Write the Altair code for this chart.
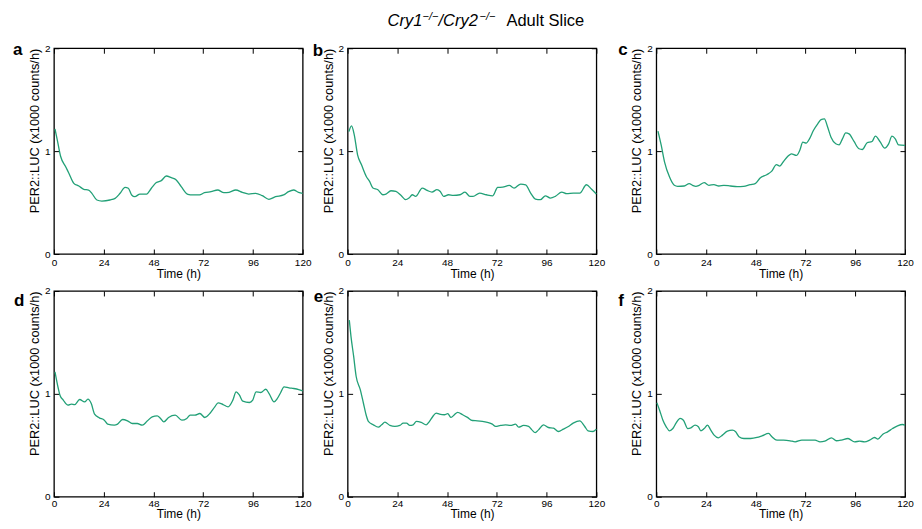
import altair as alt
import pandas as pd

# ---------------- data ----------------
TIME_TICKS = [0, 24, 48, 72, 96, 120]
Y_TICKS = [0, 1, 2]
X_TITLE = "Time (h)"
Y_TITLE = "PER2::LUC  (x1000 counts/h)"
PANEL_LETTERS = ["a", "b", "c", "d", "e", "f"]
TITLE_PARTS = ["Cry1", "\u2212/\u2212", "/Cry2", "\u2212/\u2212", "Adult Slice"]

a_time = [0.5, 1.6, 3.2, 5.6, 7.2, 9.6, 12, 14.4, 16.7, 18.3, 20.7, 23.1, 27, 29.5, 31.9, 34.3,
          35.9, 37.5, 39, 41.5, 44.7, 47, 49.4, 51.8, 54.2, 56.6, 59, 61.4, 64.6, 67, 70.2, 72.6,
          75.8, 79, 82, 84.5, 87.7, 90.9, 94, 97.3, 100.5, 103.7, 106.9, 110.8, 113.2, 115.6, 118, 120]
a_val = [1.215, 1.11, 0.95, 0.85, 0.785, 0.687, 0.661, 0.629, 0.622, 0.59, 0.525, 0.515, 0.525,
         0.541, 0.59, 0.648, 0.639, 0.574, 0.557, 0.583, 0.583, 0.639, 0.694, 0.713, 0.758, 0.742,
         0.72, 0.655, 0.58, 0.574, 0.574, 0.596, 0.606, 0.622, 0.596, 0.6, 0.622, 0.6, 0.583, 0.59,
         0.567, 0.532, 0.557, 0.574, 0.606, 0.622, 0.6, 0.59]

b_time = [0.6, 1.9, 3.2, 4.8, 6.7, 9, 10.6, 12.2, 14.6, 17, 18.5, 20.9, 23.3, 25.7, 28, 29.6, 31.2,
          32.8, 36, 38.4, 40.7, 43.1, 44.7, 46.3, 48.7, 51, 54.2, 56.6, 59, 60.5, 63.7, 66.9, 70,
          72.4, 74.8, 78, 80.3, 83.5, 85.9, 88.3, 90.6, 93, 95.4, 97.8, 100.2, 103.3, 105.7, 108.9,
          112, 115.2, 117.6, 120]
b_val = [1.19, 1.246, 1.159, 0.964, 0.867, 0.754, 0.706, 0.641, 0.625, 0.576, 0.583, 0.615, 0.608,
         0.57, 0.528, 0.544, 0.576, 0.56, 0.641, 0.618, 0.602, 0.625, 0.608, 0.56, 0.576, 0.57,
         0.576, 0.602, 0.56, 0.56, 0.592, 0.576, 0.566, 0.647, 0.65, 0.667, 0.641, 0.68, 0.673,
         0.592, 0.534, 0.528, 0.566, 0.544, 0.56, 0.602, 0.586, 0.592, 0.592, 0.673, 0.631, 0.583]

c_time = [0.8, 2.4, 4, 6.4, 8.7, 10.3, 13.5, 15.9, 17.5, 19.1, 20.7, 23.1, 25.4, 27.8, 30.2, 32.6,
          35.8, 39, 42.1, 45.3, 47.7, 50.1, 53.3, 55.6, 58, 59.6, 61.2, 63.6, 65.2, 67.6, 69.2, 70.7,
          72.3, 73.9, 75.8, 77.9, 79.5, 81.1, 82.7, 84.3, 86.6, 88.2, 89.8, 91.4, 93, 95.4, 97.8,
          99.4, 101.7, 104.1, 105.7, 108.1, 110.2, 112.1, 113.7, 115.3, 116.9, 120]
c_val = [1.194, 1.055, 0.894, 0.748, 0.668, 0.658, 0.661, 0.684, 0.668, 0.658, 0.668, 0.694, 0.668,
         0.674, 0.661, 0.668, 0.661, 0.655, 0.658, 0.674, 0.684, 0.739, 0.771, 0.803, 0.868, 0.855,
         0.894, 0.952, 0.974, 0.958, 1.006, 1.087, 1.077, 1.119, 1.2, 1.265, 1.306, 1.313, 1.232,
         1.135, 1.071, 1.061, 1.119, 1.177, 1.168, 1.094, 1.023, 1.016, 1.081, 1.094, 1.145, 1.087,
         1.029, 1.071, 1.145, 1.119, 1.061, 1.055]

d_time = [0.5, 2.1, 2.9, 4.5, 6.8, 8.4, 10, 12.4, 14.8, 16.4, 18, 19.6, 21.9, 24.3, 25.9, 29.1,
          30.7, 33.1, 35.5, 37.8, 40.2, 42.6, 45, 47.4, 49.8, 51.4, 53, 55.3, 58.5, 61.7, 64.1,
          65.7, 68, 70.4, 72.8, 75.2, 77.6, 79.2, 81.6, 84, 86.3, 87.9, 89.5, 91.1, 94.3, 95.9,
          97.5, 99.8, 102.2, 103.8, 106.2, 107.8, 109.4, 111, 113.4, 115.7, 118.1, 120]
d_val = [1.214, 1.052, 0.987, 0.939, 0.89, 0.9, 0.896, 0.945, 0.922, 0.948, 0.906, 0.803, 0.767,
         0.744, 0.706, 0.696, 0.706, 0.751, 0.738, 0.712, 0.712, 0.696, 0.735, 0.777, 0.786, 0.761,
         0.728, 0.77, 0.793, 0.744, 0.761, 0.793, 0.793, 0.809, 0.77, 0.809, 0.874, 0.913, 0.896,
         0.874, 0.939, 1.019, 0.987, 0.929, 0.916, 0.939, 1.019, 1.013, 1.045, 1.003, 0.922, 0.955,
         1.013, 1.068, 1.058, 1.052, 1.042, 1.029]

e_time = [0.8, 1.6, 2.9, 4.1, 6.1, 7.6, 8.9, 10, 12.4, 14.8, 16.4, 18, 20.4, 22.8, 25.2, 26.8,
          28.4, 30, 31.6, 33.2, 35.5, 37.9, 39.5, 41.1, 42.7, 44.3, 46.7, 48.3, 49.9, 51.5, 53.1,
          55.5, 57.8, 60.2, 62.6, 65, 67.4, 69.8, 71.4, 73.8, 76.2, 78.6, 81, 82.5, 84.9, 87.3,
          88.9, 90.5, 92.1, 94.5, 96.9, 99.3, 101.7, 104.1, 106.5, 108.8, 112, 114.4, 116, 118.4, 120]
e_val = [1.717, 1.561, 1.366, 1.171, 1.041, 0.911, 0.797, 0.732, 0.699, 0.676, 0.699, 0.725, 0.693,
         0.683, 0.693, 0.715, 0.715, 0.693, 0.699, 0.732, 0.722, 0.699, 0.732, 0.78, 0.813, 0.803,
         0.797, 0.807, 0.771, 0.797, 0.82, 0.797, 0.771, 0.741, 0.738, 0.732, 0.722, 0.706, 0.683,
         0.693, 0.699, 0.693, 0.706, 0.676, 0.693, 0.683, 0.65, 0.624, 0.65, 0.699, 0.673, 0.667,
         0.634, 0.657, 0.683, 0.715, 0.738, 0.683, 0.641, 0.634, 0.657]

f_time = [0.3, 1.6, 3.2, 4.8, 6.4, 8, 9.6, 11.5, 13.1, 15.2, 16.7, 18.7, 20.3, 21.5, 23.1, 24.7,
          26.3, 27.9, 30, 31.9, 34.3, 36.7, 38.3, 39.9, 42.3, 45.5, 48.6, 51, 54.2, 55.8, 58.2,
          61.4, 64.6, 67, 70.2, 73.4, 76.6, 79, 81.3, 84.5, 86.9, 89.3, 92.5, 95.7, 98.1, 100.5,
          102.9, 105.3, 106.9, 109.3, 111.6, 114, 116.4, 118.8, 120]
f_val = [0.913, 0.841, 0.744, 0.68, 0.641, 0.663, 0.718, 0.761, 0.744, 0.663, 0.67, 0.696, 0.68,
         0.641, 0.663, 0.696, 0.647, 0.599, 0.573, 0.599, 0.638, 0.647, 0.631, 0.583, 0.566, 0.566,
         0.576, 0.592, 0.615, 0.583, 0.55, 0.55, 0.544, 0.534, 0.55, 0.55, 0.55, 0.534, 0.54, 0.573,
         0.544, 0.55, 0.566, 0.534, 0.54, 0.534, 0.55, 0.576, 0.56, 0.608, 0.631, 0.663, 0.689,
         0.702, 0.696]

# ---------------- style ----------------
FONT = "Liberation Sans"
LINE_COLOR = "#22a077"
W, H = 249, 206

x_scale = alt.Scale(domain=[0, 120], nice=False)
y_scale = alt.Scale(domain=[0, 2], nice=False)
one_row = pd.DataFrame({"k": [0]})


def panel(t, v, letter, ldx, ldy, lpad, tpad, extra_layers=()):
    df = pd.DataFrame({"t": t, "v": v})
    main = alt.Chart(df).mark_line(
        color=LINE_COLOR, strokeWidth=1.3, interpolate="monotone"
    ).encode(
        x=alt.X("t:Q", scale=x_scale, axis=alt.Axis(
            orient="bottom", values=TIME_TICKS, format=".0f", title=X_TITLE, offset=-5,
            tickSize=5, labelPadding=lpad, titlePadding=tpad, labelFlush=False,
            labelOverlap=False, domain=False, grid=False)),
        y=alt.Y("v:Q", scale=y_scale, axis=alt.Axis(
            orient="left", values=Y_TICKS, format=".0f", title=Y_TITLE, titleAnchor="end",
            titleFontSize=12.8, offset=-5, tickSize=5, labelPadding=4, titlePadding=3,
            labelFlush=False, labelOverlap=False, domain=False, grid=False)),
    )
    ghost = alt.Chart(df).mark_line(strokeOpacity=0).encode(
        x=alt.X("t:Q", scale=x_scale, axis=alt.Axis(
            orient="top", values=TIME_TICKS, labels=False, title="", offset=-5, tickSize=5,
            domain=False, grid=False)),
        y=alt.Y("v:Q", scale=y_scale, axis=alt.Axis(
            orient="right", values=Y_TICKS, labels=False, title="", offset=-5, tickSize=5,
            domain=False, grid=False)),
    )
    lab = alt.Chart(one_row).mark_text(
        text=letter, font=FONT, fontSize=17, fontWeight="bold", align="left",
        baseline="alphabetic", color="black"
    ).encode(x=alt.value(ldx), y=alt.value(ldy))
    return alt.layer(main, ghost, lab, *extra_layers).resolve_axis(
        x="independent", y="independent").properties(width=W, height=H)


def spacer(w):
    return alt.Chart(one_row).mark_point(opacity=0).properties(width=w, height=H)


# title pieces (mixed italic / superscript), attached to the middle top panel
title_specs = [
    (TITLE_PARTS[0], 40, -35.5, 16.5, "italic"),
    (TITLE_PARTS[1], 75, -37.7, 11, "italic"),
    (TITLE_PARTS[2], 91, -35.5, 16.5, "italic"),
    (TITLE_PARTS[3], 132, -37.7, 11, "italic"),
    (TITLE_PARTS[4], 159, -35.5, 16.5, "normal"),
]
title_layers = [
    alt.Chart(one_row).mark_text(
        text=txt, font=FONT, fontSize=fs, fontStyle=st, align="left",
        baseline="top", color="black"
    ).encode(x=alt.value(px), y=alt.value(py))
    for txt, px, py, fs, st in title_specs
]

pa = panel(a_time, a_val, PANEL_LETTERS[0], -41, 7, 4, 1)
pb = panel(b_time, b_val, PANEL_LETTERS[1], -35, 8, 4, 1, title_layers)
pc = panel(c_time, c_val, PANEL_LETTERS[2], -38, 7, 4, 1)
pd_ = panel(d_time, d_val, PANEL_LETTERS[3], -40, 15, 2, 0)
pe = panel(e_time, e_val, PANEL_LETTERS[4], -34, 11, 2, 0)
pf = panel(f_time, f_val, PANEL_LETTERS[5], -38, 15, 2, 0)

chart = alt.concat(
    pa, spacer(5), pb, spacer(20), pc,
    pd_, spacer(5), pe, spacer(20), pf,
    columns=5, spacing={"row": 37, "column": 20}, bounds="flush",
).properties(
    padding={"left": 4, "top": 1, "right": 0, "bottom": 0}
).configure_view(
    stroke="black", strokeWidth=1.3
).configure_axis(
    labelFont=FONT, titleFont=FONT, labelFontSize=10, titleFontSize=12,
    labelColor="black", titleColor="black", tickColor="black", tickWidth=1,
    titleFontWeight="normal"
)

chart.save("out.html", embed_options={"renderer": "svg", "actions": False})
